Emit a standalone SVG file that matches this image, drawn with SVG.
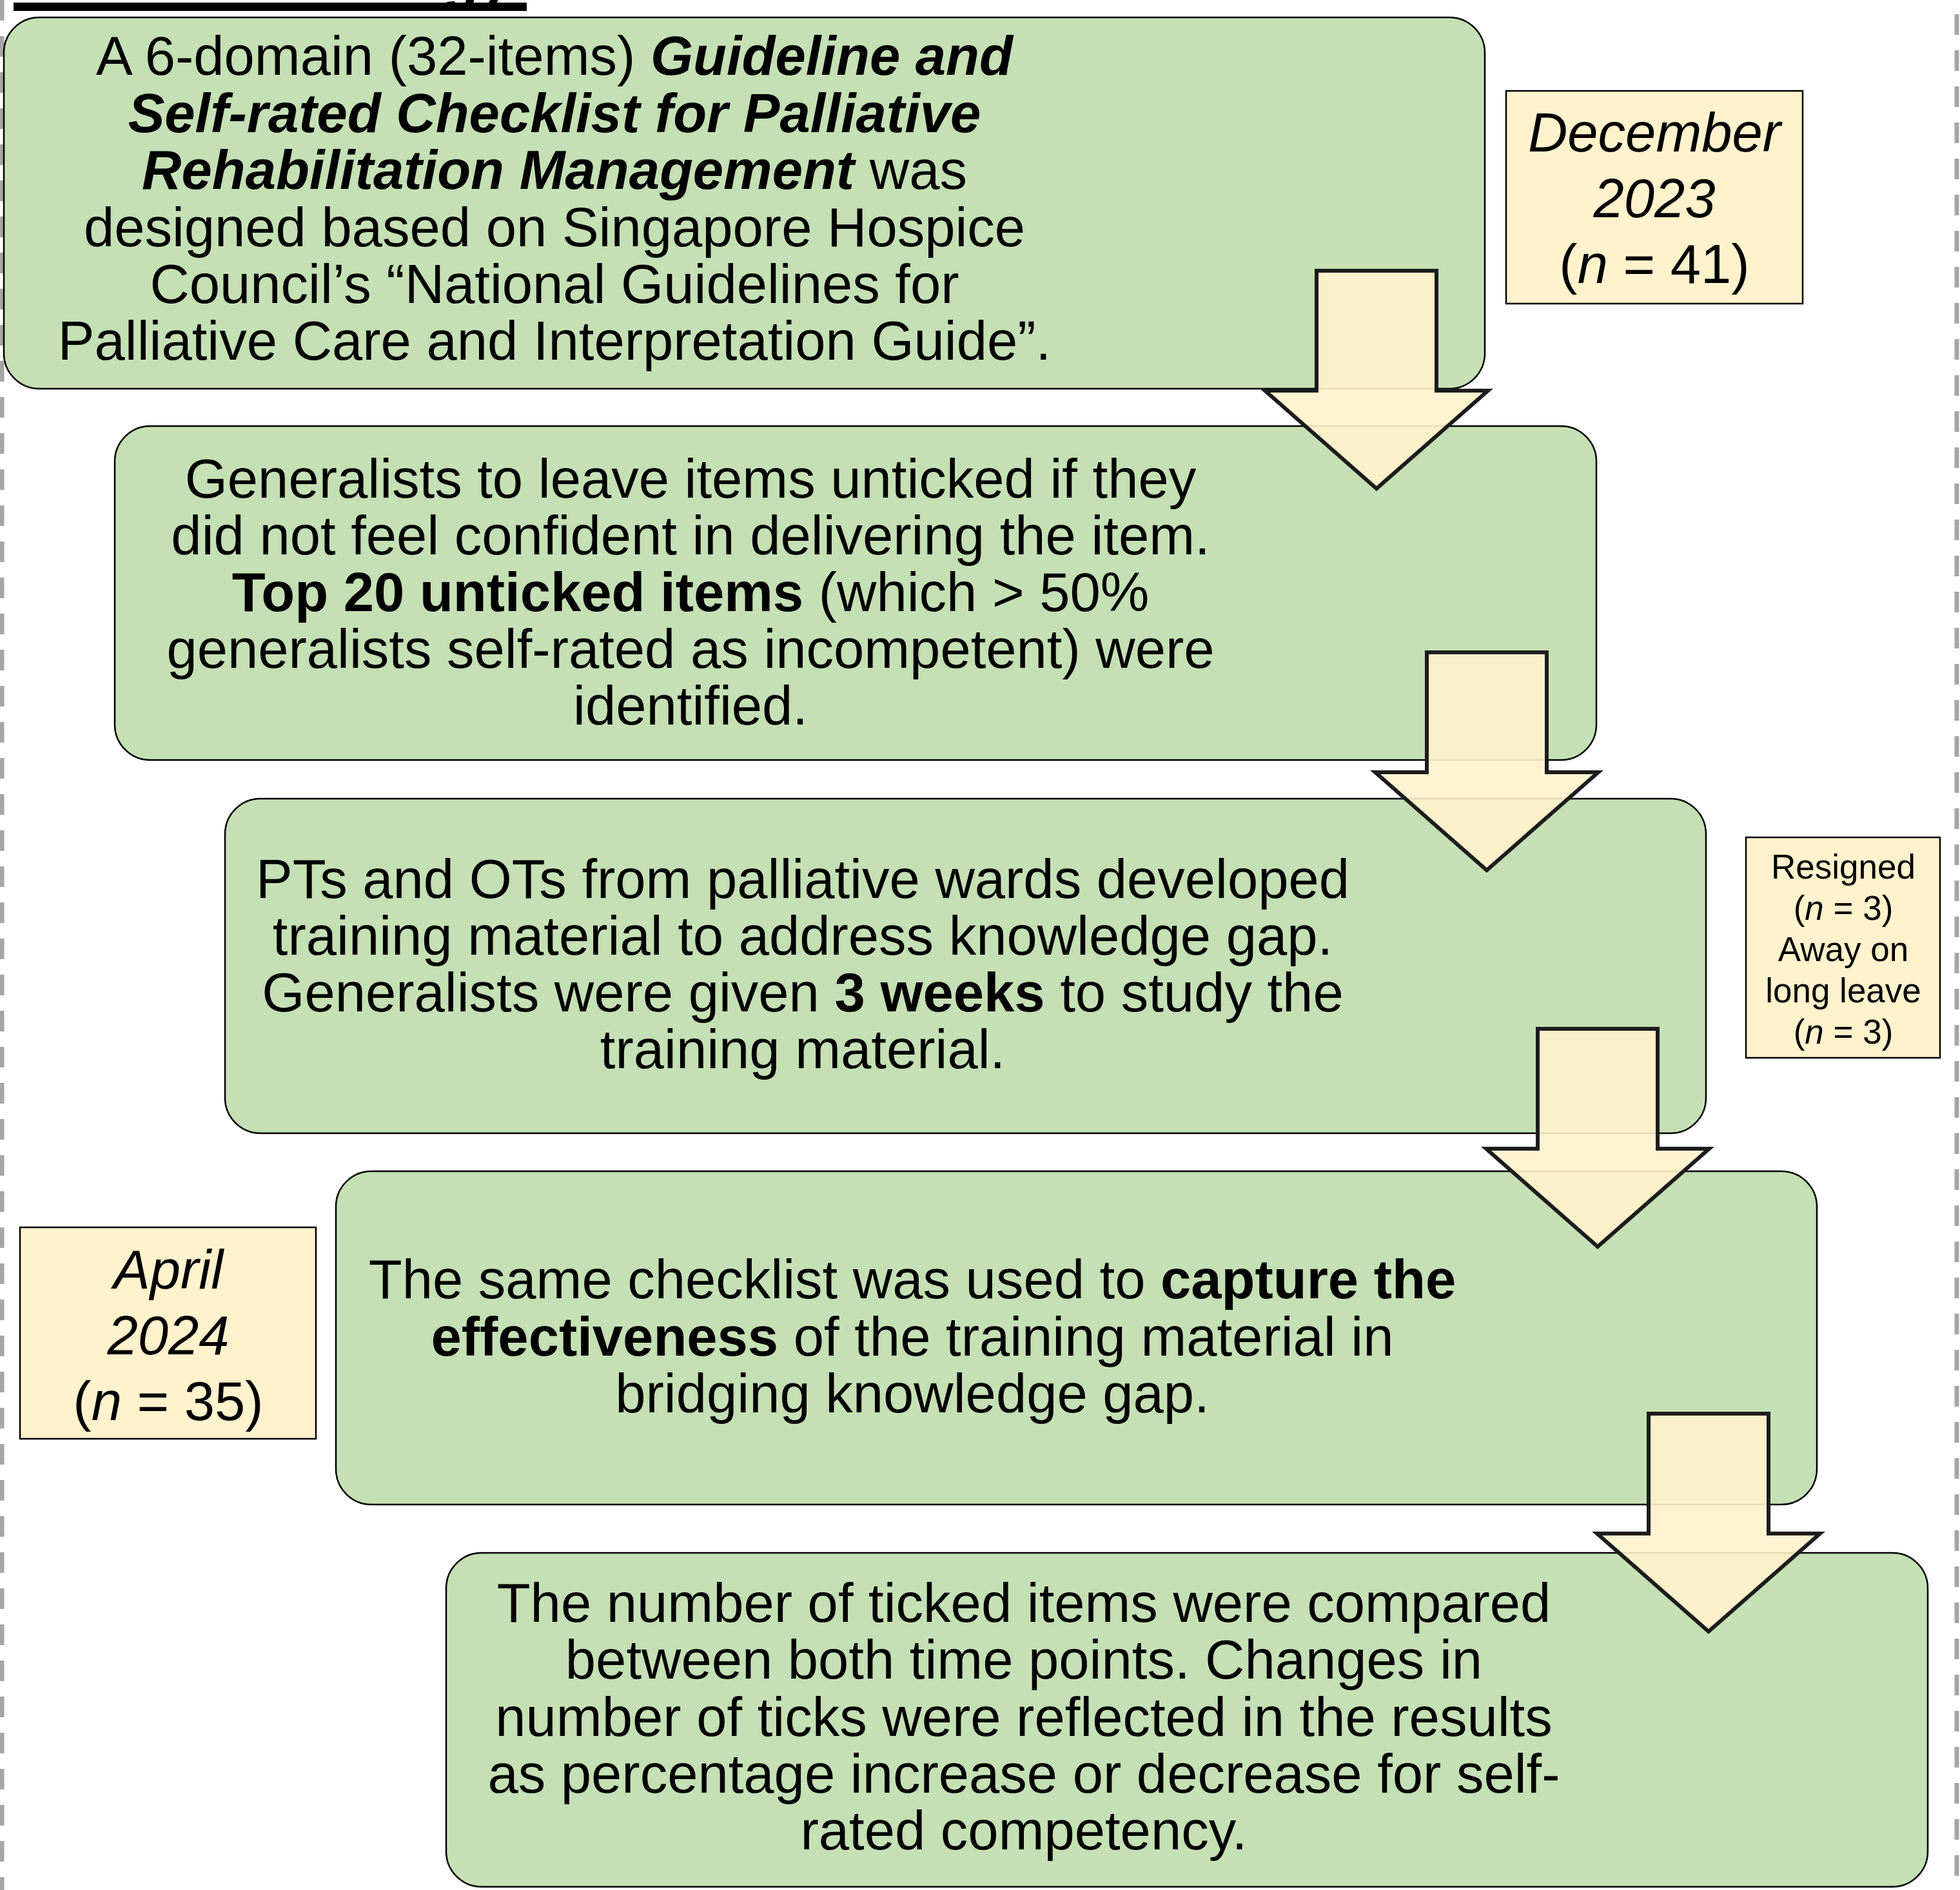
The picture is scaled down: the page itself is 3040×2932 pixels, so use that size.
<svg xmlns="http://www.w3.org/2000/svg" width="3040" height="2932" viewBox="0 0 3040 2932">
<style>
text{font-family:"Liberation Sans",Arial,sans-serif;fill:#000;}
.t{font-size:85px;text-anchor:middle;}
.s{font-size:53px;text-anchor:middle;}
.b{font-weight:bold;}
.i{font-style:italic;}
.box{fill:#C5E0B4;stroke:#000;stroke-width:2.5;}
.note{fill:#FFF2CC;stroke:#000;stroke-width:2.5;}
.arr{fill:#FFF2CC;fill-opacity:0.9;stroke:#1c1c1c;stroke-width:6;stroke-linejoin:miter;}
.dash{stroke:#A6A6A6;stroke-width:7;stroke-dasharray:32 24;fill:none;}
</style>
<rect width="3040" height="2932" fill="#fff"/>
<g id="frame">
<line class="dash" x1="3" y1="0" x2="3" y2="2932"/>
<line class="dash" x1="3035" y1="22" x2="3035" y2="2932"/>
</g>
<g id="title">
<text x="792" y="-3" class="b" font-size="90" text-anchor="end">Methodology</text>
<rect x="21" y="4" width="796" height="13" fill="#000"/>
</g>
<g id="step1">
<rect class="box" x="6" y="27" width="2297" height="576" rx="55" ry="55"/>
<text class="t" x="860" y="116">A 6-domain (32-items) <tspan class="b i">Guideline and</tspan></text>
<text class="t b i" x="860" y="205">Self-rated Checklist for Palliative</text>
<text class="t" x="860" y="293"><tspan class="b i">Rehabilitation Management</tspan> was</text>
<text class="t" x="860" y="382">designed based on Singapore Hospice</text>
<text class="t" x="860" y="470">Council’s “National Guidelines for</text>
<text class="t" x="860" y="558">Palliative Care and Interpretation Guide”.</text>
</g>
<g id="step2">
<rect class="box" x="178" y="661" width="2298" height="518" rx="55" ry="55"/>
<text class="t" x="1071" y="772">Generalists to leave items unticked if they</text>
<text class="t" x="1071" y="860">did not feel confident in delivering the item.</text>
<text class="t" x="1071" y="948"><tspan class="b">Top 20 unticked items</tspan> (which &gt; 50%</text>
<text class="t" x="1071" y="1036">generalists self-rated as incompetent) were</text>
<text class="t" x="1071" y="1124">identified.</text>
</g>
<g id="step3">
<rect class="box" x="349" y="1239" width="2297" height="519" rx="55" ry="55"/>
<text class="t" x="1245" y="1393">PTs and OTs from palliative wards developed</text>
<text class="t" x="1245" y="1481">training material to address knowledge gap.</text>
<text class="t" x="1245" y="1569">Generalists were given <tspan class="b">3 weeks</tspan> to study the</text>
<text class="t" x="1245" y="1657">training material.</text>
</g>
<g id="step4">
<rect class="box" x="521" y="1817" width="2297" height="517" rx="55" ry="55"/>
<text class="t" x="1415" y="2014">The same checklist was used to <tspan class="b">capture the</tspan></text>
<text class="t" x="1415" y="2103"><tspan class="b">effectiveness</tspan> of the training material in</text>
<text class="t" x="1415" y="2191">bridging knowledge gap.</text>
</g>
<g id="step5">
<rect class="box" x="692" y="2409" width="2298" height="518" rx="55" ry="55"/>
<text class="t" x="1588" y="2516">The number of ticked items were compared</text>
<text class="t" x="1588" y="2604">between both time points. Changes in</text>
<text class="t" x="1588" y="2693">number of ticks were reflected in the results</text>
<text class="t" x="1588" y="2781">as percentage increase or decrease for self-</text>
<text class="t" x="1588" y="2869">rated competency.</text>
</g>
<g id="note-december">
<rect class="note" x="2336" y="141" width="460" height="330"/>
<text class="t i" x="2566" y="235">December</text>
<text class="t i" x="2566" y="337">2023</text>
<text class="t" x="2566" y="439">(<tspan class="i">n</tspan> = 41)</text>
</g>
<g id="note-april">
<rect class="note" x="31" y="1904" width="459" height="328"/>
<text class="t i" x="261" y="1999">April</text>
<text class="t i" x="261" y="2101">2024</text>
<text class="t" x="261" y="2203">(<tspan class="i">n</tspan> = 35)</text>
</g>
<g id="note-dropout">
<rect class="note" x="2708" y="1299" width="301" height="342"/>
<text class="s" x="2859" y="1363">Resigned</text>
<text class="s" x="2859" y="1427">(<tspan class="i">n</tspan> = 3)</text>
<text class="s" x="2859" y="1491">Away on</text>
<text class="s" x="2859" y="1555">long leave</text>
<text class="s" x="2859" y="1619">(<tspan class="i">n</tspan> = 3)</text>
</g>
<g id="connectors">
<polygon class="arr" points="2042,420 2228,420 2228,606 2308,606 2135,758 1962,606 2042,606"/>
<polygon class="arr" points="2213,1012 2399,1012 2399,1198 2479,1198 2306,1350 2133,1198 2213,1198"/>
<polygon class="arr" points="2385,1596 2571,1596 2571,1782 2651,1782 2478,1934 2305,1782 2385,1782"/>
<polygon class="arr" points="2557,2193 2743,2193 2743,2379 2823,2379 2650,2531 2477,2379 2557,2379"/>
</g>
</svg>
